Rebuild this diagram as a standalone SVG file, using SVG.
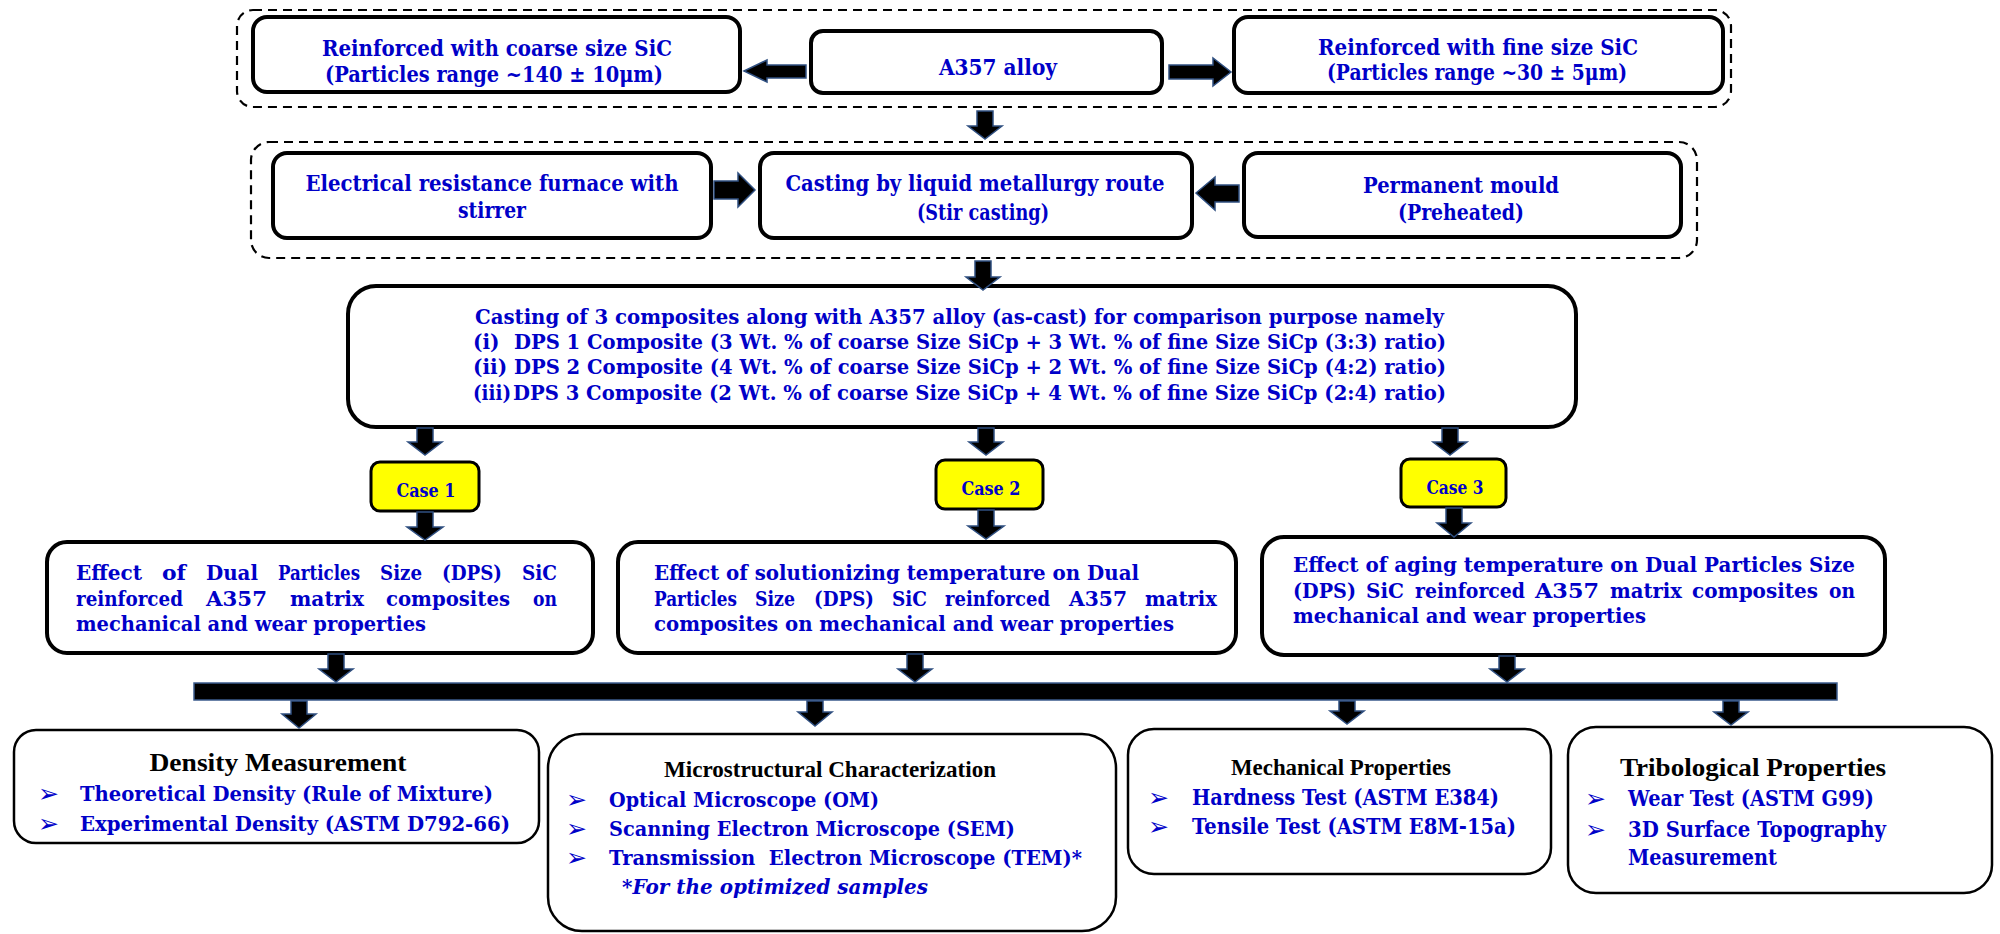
<svg xmlns="http://www.w3.org/2000/svg" width="2000" height="934" viewBox="0 0 2000 934">
  <style>
    .box { fill: #ffffff; stroke: #000000; stroke-width: 4; }
    .thin { fill: #ffffff; stroke: #000000; stroke-width: 2.5; }
    .case { fill: #ffff00; stroke: #000000; stroke-width: 3; }
    .dash { fill: none; stroke: #000000; stroke-width: 2.2; stroke-dasharray: 9 6; }
    .arr { fill: #000000; stroke: #2f4f80; stroke-width: 1.5; stroke-linejoin: miter; }
    .t { font-family: "DejaVu Serif", "Liberation Serif", serif; font-weight: bold; fill: #0000c8; }
    .c { text-anchor: middle; }
    .hd { font-family: "Liberation Serif", "DejaVu Serif", serif; font-weight: bold; fill: #000000; }
    .bul { font-family: "DejaVu Sans", sans-serif; fill: #0000c8; font-size: 25px; }
    .it { font-style: italic; }
  </style>

  <!-- group outlines -->
  <g id="group-materials">
    <rect class="dash" x="237" y="10" width="1494" height="97" rx="16"/>
  </g>
  <g id="group-casting">
    <rect class="dash" x="251" y="142" width="1446" height="116" rx="18"/>
  </g>

  <!-- row 1 -->
  <g id="coarse-sic">
    <rect class="box" x="253" y="17" width="487" height="75" rx="14"/>
    <text class="t c" x="497" y="56" font-size="23" textLength="350" lengthAdjust="spacingAndGlyphs">Reinforced with coarse size SiC</text>
    <text class="t c" x="494" y="82" font-size="23" textLength="338" lengthAdjust="spacingAndGlyphs">(Particles range ~140 ± 10μm)</text>
  </g>
  <g id="a357-alloy">
    <rect class="box" x="811" y="31" width="351" height="62" rx="12"/>
    <text class="t c" x="998" y="75" font-size="23" textLength="118" lengthAdjust="spacingAndGlyphs">A357 alloy</text>
  </g>
  <g id="fine-sic">
    <rect class="box" x="1234" y="17" width="489" height="76" rx="14"/>
    <text class="t c" x="1478" y="55" font-size="23" textLength="320" lengthAdjust="spacingAndGlyphs">Reinforced with fine size SiC</text>
    <text class="t c" x="1477" y="80" font-size="23" textLength="300" lengthAdjust="spacingAndGlyphs">(Particles range ~30 ± 5μm)</text>
  </g>

  <!-- row 2 -->
  <g id="furnace">
    <rect class="box" x="273" y="153" width="438" height="85" rx="14"/>
    <text class="t c" x="492" y="191" font-size="23" textLength="373" lengthAdjust="spacingAndGlyphs">Electrical resistance furnace with</text>
    <text class="t c" x="492" y="218" font-size="23" textLength="68" lengthAdjust="spacingAndGlyphs">stirrer</text>
  </g>
  <g id="stir-casting">
    <rect class="box" x="760" y="153" width="432" height="85" rx="14"/>
    <text class="t c" x="975" y="191" font-size="23" textLength="379" lengthAdjust="spacingAndGlyphs">Casting by liquid metallurgy route</text>
    <text class="t c" x="983" y="220" font-size="23" textLength="132" lengthAdjust="spacingAndGlyphs">(Stir casting)</text>
  </g>
  <g id="mould">
    <rect class="box" x="1244" y="153" width="437" height="84" rx="14"/>
    <text class="t c" x="1461" y="193" font-size="23" textLength="196" lengthAdjust="spacingAndGlyphs">Permanent mould</text>
    <text class="t c" x="1461" y="220" font-size="23" textLength="126" lengthAdjust="spacingAndGlyphs">(Preheated)</text>
  </g>

  <!-- row 3 -->
  <g id="composites">
    <rect class="box" x="348" y="286" width="1228" height="141" rx="28"/>
    <text class="t" x="475" y="324" font-size="20" textLength="969" lengthAdjust="spacingAndGlyphs">Casting of 3 composites along with A357 alloy (as-cast) for comparison purpose namely</text>
    <text class="t" x="473" y="349" font-size="20">(i)</text>
    <text class="t" x="514" y="349" font-size="20" textLength="932" lengthAdjust="spacingAndGlyphs">DPS 1 Composite (3 Wt. % of coarse Size SiCp + 3 Wt. % of fine Size SiCp (3:3) ratio)</text>
    <text class="t" x="473" y="374" font-size="20">(ii)</text>
    <text class="t" x="514" y="374" font-size="20" textLength="932" lengthAdjust="spacingAndGlyphs">DPS 2 Composite (4 Wt. % of coarse Size SiCp + 2 Wt. % of fine Size SiCp (4:2) ratio)</text>
    <text class="t" x="473" y="400" font-size="20" textLength="38" lengthAdjust="spacingAndGlyphs">(iii)</text>
    <text class="t" x="513" y="400" font-size="20" textLength="933" lengthAdjust="spacingAndGlyphs">DPS 3 Composite (2 Wt. % of coarse Size SiCp + 4 Wt. % of fine Size SiCp (2:4) ratio)</text>
  </g>

  <!-- cases -->
  <g id="case-1">
    <rect class="case" x="371" y="462" width="108" height="49" rx="9"/>
    <text class="t c" x="426" y="497" font-size="19" textLength="59" lengthAdjust="spacingAndGlyphs">Case 1</text>
  </g>
  <g id="case-2">
    <rect class="case" x="936" y="460" width="107" height="49" rx="9"/>
    <text class="t c" x="991" y="495" font-size="19" textLength="59" lengthAdjust="spacingAndGlyphs">Case 2</text>
  </g>
  <g id="case-3">
    <rect class="case" x="1401" y="459" width="105" height="48" rx="9"/>
    <text class="t c" x="1455" y="494" font-size="19" textLength="57" lengthAdjust="spacingAndGlyphs">Case 3</text>
  </g>

  <!-- studies: justified lines are set word by word -->
  <g id="study-dps" font-size="21">
    <rect class="box" x="47" y="542" width="546" height="111" rx="20"/>
    <text class="t" x="76" y="580" textLength="66" lengthAdjust="spacingAndGlyphs">Effect</text>
    <text class="t" x="162" y="580" textLength="24" lengthAdjust="spacingAndGlyphs">of</text>
    <text class="t" x="206" y="580" textLength="52" lengthAdjust="spacingAndGlyphs">Dual</text>
    <text class="t" x="278" y="580" textLength="82" lengthAdjust="spacingAndGlyphs">Particles</text>
    <text class="t" x="380" y="580" textLength="42" lengthAdjust="spacingAndGlyphs">Size</text>
    <text class="t" x="442" y="580" textLength="60" lengthAdjust="spacingAndGlyphs">(DPS)</text>
    <text class="t" x="522" y="580" textLength="35" lengthAdjust="spacingAndGlyphs">SiC</text>
    <text class="t" x="76" y="606" textLength="107" lengthAdjust="spacingAndGlyphs">reinforced</text>
    <text class="t" x="206" y="606" textLength="61" lengthAdjust="spacingAndGlyphs">A357</text>
    <text class="t" x="290" y="606" textLength="74" lengthAdjust="spacingAndGlyphs">matrix</text>
    <text class="t" x="386" y="606" textLength="124" lengthAdjust="spacingAndGlyphs">composites</text>
    <text class="t" x="533" y="606" textLength="24" lengthAdjust="spacingAndGlyphs">on</text>
    <text class="t" x="76" y="631" textLength="350" lengthAdjust="spacingAndGlyphs">mechanical and wear properties</text>
  </g>
  <g id="study-solutionizing" font-size="21">
    <rect class="box" x="618" y="542" width="618" height="111" rx="20"/>
    <text class="t" x="654" y="580" textLength="485" lengthAdjust="spacingAndGlyphs">Effect of solutionizing temperature on Dual</text>
    <text class="t" x="654" y="606" textLength="83" lengthAdjust="spacingAndGlyphs">Particles</text>
    <text class="t" x="755" y="606" textLength="40" lengthAdjust="spacingAndGlyphs">Size</text>
    <text class="t" x="814" y="606" textLength="60" lengthAdjust="spacingAndGlyphs">(DPS)</text>
    <text class="t" x="892" y="606" textLength="35" lengthAdjust="spacingAndGlyphs">SiC</text>
    <text class="t" x="945" y="606" textLength="105" lengthAdjust="spacingAndGlyphs">reinforced</text>
    <text class="t" x="1069" y="606" textLength="58" lengthAdjust="spacingAndGlyphs">A357</text>
    <text class="t" x="1145" y="606" textLength="72" lengthAdjust="spacingAndGlyphs">matrix</text>
    <text class="t" x="654" y="631" textLength="520" lengthAdjust="spacingAndGlyphs">composites on mechanical and wear properties</text>
  </g>
  <g id="study-aging" font-size="21">
    <rect class="box" x="1262" y="537" width="623" height="118" rx="22"/>
    <text class="t" x="1293" y="572" textLength="562" lengthAdjust="spacingAndGlyphs">Effect of aging temperature on Dual Particles Size</text>
    <text class="t" x="1293" y="598" textLength="63" lengthAdjust="spacingAndGlyphs">(DPS)</text>
    <text class="t" x="1366" y="598" textLength="38" lengthAdjust="spacingAndGlyphs">SiC</text>
    <text class="t" x="1415" y="598" textLength="110" lengthAdjust="spacingAndGlyphs">reinforced</text>
    <text class="t" x="1535" y="598" textLength="64" lengthAdjust="spacingAndGlyphs">A357</text>
    <text class="t" x="1610" y="598" textLength="72" lengthAdjust="spacingAndGlyphs">matrix</text>
    <text class="t" x="1692" y="598" textLength="126" lengthAdjust="spacingAndGlyphs">composites</text>
    <text class="t" x="1829" y="598" textLength="26" lengthAdjust="spacingAndGlyphs">on</text>
    <text class="t" x="1293" y="623" textLength="353" lengthAdjust="spacingAndGlyphs">mechanical and wear properties</text>
  </g>

  <!-- collecting bar -->
  <g id="collector">
    <rect x="194" y="683" width="1643" height="17" fill="#000000" stroke="#3b5b8c" stroke-width="1.5"/>
  </g>

  <!-- characterisation boxes -->
  <g id="density">
    <rect class="thin" x="14" y="730" width="525" height="113" rx="22"/>
    <text class="hd c" x="278" y="771" font-size="25" textLength="257" lengthAdjust="spacingAndGlyphs">Density Measurement</text>
    <text class="bul" x="38" y="802">➢</text>
    <text class="t" x="80" y="801" font-size="21" textLength="413" lengthAdjust="spacingAndGlyphs">Theoretical Density (Rule of Mixture)</text>
    <text class="bul" x="38" y="832">➢</text>
    <text class="t" x="80" y="831" font-size="21" textLength="430" lengthAdjust="spacingAndGlyphs">Experimental Density (ASTM D792-66)</text>
  </g>
  <g id="microstructure">
    <rect class="thin" x="548" y="734" width="568" height="197" rx="34"/>
    <text class="hd c" x="830" y="777" font-size="23" textLength="332" lengthAdjust="spacingAndGlyphs">Microstructural Characterization</text>
    <text class="bul" x="566" y="808">➢</text>
    <text class="t" x="609" y="807" font-size="21" textLength="270" lengthAdjust="spacingAndGlyphs">Optical Microscope (OM)</text>
    <text class="bul" x="566" y="837">➢</text>
    <text class="t" x="609" y="836" font-size="21" textLength="406" lengthAdjust="spacingAndGlyphs">Scanning Electron Microscope (SEM)</text>
    <text class="bul" x="566" y="866">➢</text>
    <text class="t" x="609" y="865" font-size="21" textLength="473" lengthAdjust="spacingAndGlyphs" xml:space="preserve">Transmission  Electron Microscope (TEM)*</text>
    <text class="t it" x="622" y="894" font-size="21" textLength="306" lengthAdjust="spacingAndGlyphs">*For the optimized samples</text>
  </g>
  <g id="mechanical">
    <rect class="thin" x="1128" y="729" width="423" height="145" rx="26"/>
    <text class="hd c" x="1341" y="775" font-size="24" textLength="220" lengthAdjust="spacingAndGlyphs">Mechanical Properties</text>
    <text class="bul" x="1148" y="806">➢</text>
    <text class="t" x="1192" y="805" font-size="22" textLength="307" lengthAdjust="spacingAndGlyphs">Hardness Test (ASTM E384)</text>
    <text class="bul" x="1148" y="835">➢</text>
    <text class="t" x="1192" y="834" font-size="22" textLength="324" lengthAdjust="spacingAndGlyphs">Tensile Test (ASTM E8M-15a)</text>
  </g>
  <g id="tribological">
    <rect class="thin" x="1568" y="727" width="424" height="166" rx="28"/>
    <text class="hd c" x="1753" y="776" font-size="25" textLength="266" lengthAdjust="spacingAndGlyphs">Tribological Properties</text>
    <text class="bul" x="1585" y="807">➢</text>
    <text class="t" x="1628" y="806" font-size="22" textLength="246" lengthAdjust="spacingAndGlyphs">Wear Test (ASTM G99)</text>
    <text class="bul" x="1585" y="838">➢</text>
    <text class="t" x="1628" y="837" font-size="22" textLength="258" lengthAdjust="spacingAndGlyphs">3D Surface Topography</text>
    <text class="t" x="1628" y="865" font-size="22" textLength="149" lengthAdjust="spacingAndGlyphs">Measurement</text>
  </g>

  <!-- block-arrow connectors -->
  <g id="connectors">
    <polygon class="arr" points="744,71 767,60 767,65 806,65 806,78 767,78 767,82"/>
    <polygon class="arr" points="1169,65 1213,65 1213,58 1231,72 1213,86 1213,79 1169,79"/>
    <polygon class="arr" points="977,111 993,111 993,126 1002,126 985,139 968,126 977,126"/>
    <polygon class="arr" points="714,181 738,181 738,173 755,190 738,207 738,199 714,199"/>
    <polygon class="arr" points="1196,193 1215,177 1215,185 1239,185 1239,202 1215,202 1215,210"/>
    <polygon class="arr" points="975,261 991,261 991,277 1000,277 983,290 966,277 975,277"/>
    <polygon class="arr" points="417,428 433,428 433,442 442,442 425,455 408,442 417,442"/>
    <polygon class="arr" points="978,428 994,428 994,442 1003,442 986,455 969,442 978,442"/>
    <polygon class="arr" points="1442,428 1458,428 1458,442 1467,442 1450,455 1433,442 1442,442"/>
    <polygon class="arr" points="417,512 433,512 433,527 443,527 425,540 407,527 417,527"/>
    <polygon class="arr" points="978,510 994,510 994,526 1004,526 986,539 968,526 978,526"/>
    <polygon class="arr" points="1446,508 1462,508 1462,523 1471,523 1454,537 1437,523 1446,523"/>
    <polygon class="arr" points="328,654 344,654 344,669 353,669 336,682 319,669 328,669"/>
    <polygon class="arr" points="907,654 923,654 923,669 932,669 915,682 898,669 907,669"/>
    <polygon class="arr" points="1499,656 1515,656 1515,669 1524,669 1507,682 1490,669 1499,669"/>
    <polygon class="arr" points="291,701 307,701 307,714 316,714 299,728 282,714 291,714"/>
    <polygon class="arr" points="807,701 823,701 823,712 832,712 815,726 798,712 807,712"/>
    <polygon class="arr" points="1339,701 1355,701 1355,711 1364,711 1347,724 1330,711 1339,711"/>
    <polygon class="arr" points="1723,701 1739,701 1739,712 1748,712 1731,725 1714,712 1723,712"/>
  </g>
</svg>
